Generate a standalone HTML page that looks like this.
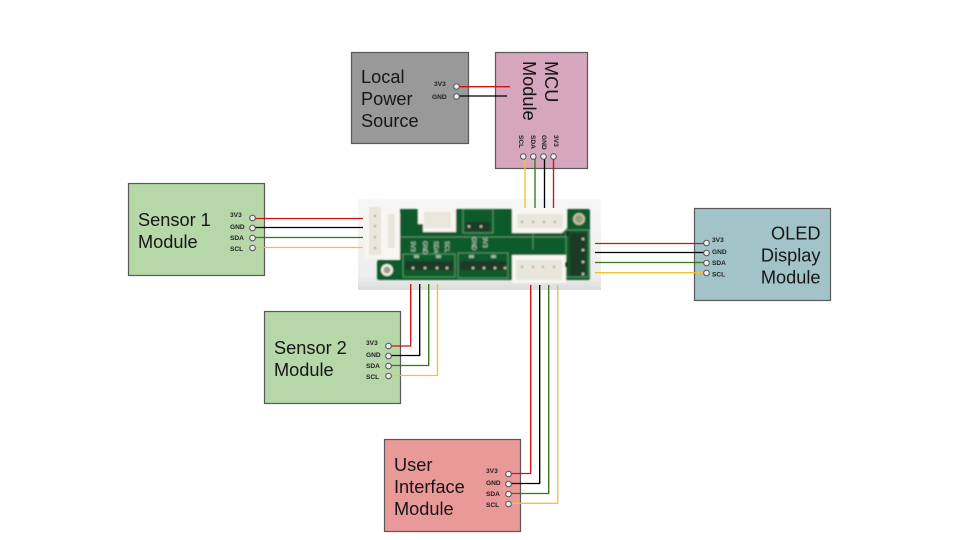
<!DOCTYPE html>
<html><head><meta charset="utf-8"><style>
html,body{margin:0;padding:0;background:#fff}
svg{display:block}
.t{font-family:"Liberation Sans",sans-serif;font-size:18.200px;fill:#161616}
.p{font-family:"Liberation Sans",sans-serif;font-size:6.600px;font-weight:bold;fill:#222}
.b{font-family:"Liberation Sans",sans-serif;font-size:6px;fill:#cfe3d4}
.pin{fill:#eee;stroke:#555;stroke-width:1}
.box{stroke:#595959;stroke-width:1.200}
.r,.k,.g,.y{fill:none;stroke-width:1.350}
.r{stroke:#cc1212}.k{stroke:#000}.g{stroke:#38761d}.y{stroke:#f1c232}
.w{fill:#f8f6f0}
.i{fill:#e9e6dc}
.tr{fill:none;stroke:#6fae80;stroke-width:.7}
.hd{fill:#1c3a27}
.pn{fill:#c9c2a8}
.cp{fill:#a8a79a}
</style></head><body>
<svg width="960" height="540" viewBox="0 0 960 540" xmlns="http://www.w3.org/2000/svg">
<defs>
<filter id="bl" x="-5%" y="-5%" width="110%" height="110%"><feGaussianBlur stdDeviation="0.700"/></filter>
<linearGradient id="bg" x1="0" y1="0" x2="0" y2="1"><stop offset="0" stop-color="#f7f7f7"/><stop offset=".85" stop-color="#ededed"/><stop offset="1" stop-color="#dcdcdc"/></linearGradient>
</defs>
<rect width="960" height="540" fill="#fff"/>

<!-- boxes -->
<rect class="box" x="351.500" y="52.500" width="117" height="91" fill="#999"/>
<rect class="box" x="495.500" y="52.500" width="92" height="116" fill="#d5a6bd"/>
<rect class="box" x="128.500" y="183.500" width="136" height="92" fill="#b6d7a8"/>
<rect class="box" x="694.500" y="208.500" width="136" height="92" fill="#a2c4c9"/>
<rect class="box" x="264.500" y="311.500" width="136" height="92" fill="#b6d7a8"/>
<rect class="box" x="384.500" y="439.500" width="136" height="92" fill="#ea9999"/>

<!-- board photo -->
<rect x="358" y="199" width="243" height="91" fill="url(#bg)"/>
<g filter="url(#bl)">
<path d="M400 209H588Q590 209 590 211V278Q590 280 588 280H379Q377 280 377 278V262Q377 260 379 260H400Z" fill="#0e5a2a"/>
<circle cx="387" cy="270" r="6" fill="#f2efe2"/><circle cx="387" cy="270" r="3.500" fill="#9aa090"/>
<circle cx="579" cy="219" r="6" fill="#c5c4a4"/><circle cx="579" cy="219" r="4" fill="#9c9c84"/>

<rect class="tr" x="403" y="254" width="52" height="23"/>
<rect class="tr" x="458" y="253" width="50" height="25"/>
<rect class="tr" x="463" y="209" width="30" height="24"/>
<rect class="tr" x="566" y="230" width="23" height="47"/>
<path class="tr" d="M533 233V249M400 237H566"/>

<rect class="hd" x="405" y="261" width="48" height="9"/>
<rect class="hd" x="460" y="261" width="46" height="9"/>
<rect class="hd" x="466" y="222" width="24" height="9"/>
<rect class="hd" x="570" y="233" width="16" height="43"/>
<rect x="414" y="255" width="5" height="3" fill="#cfe3d4" opacity=".7"/><rect x="436" y="255" width="5" height="3" fill="#cfe3d4" opacity=".7"/>
<rect x="469" y="255" width="5" height="3" fill="#cfe3d4" opacity=".7"/><rect x="491" y="255" width="5" height="3" fill="#cfe3d4" opacity=".7"/>

<g class="pn">
<circle cx="413" cy="268" r="1.400"/><circle cx="425" cy="268" r="1.400"/><circle cx="437" cy="268" r="1.400"/><circle cx="447" cy="268" r="1.400"/>
<circle cx="473" cy="268" r="1.400"/><circle cx="484" cy="268" r="1.400"/><circle cx="495" cy="268" r="1.400"/><circle cx="505" cy="268" r="1.400"/>
<circle cx="469" cy="226.500" r="1.400"/><circle cx="481" cy="226.500" r="1.400"/>
<circle cx="583" cy="239" r="1.400"/><circle cx="583" cy="250" r="1.400"/><circle cx="583" cy="262" r="1.400"/><circle cx="583" cy="274" r="1.400"/>
</g>

<!-- connectors -->
<path class="w" d="M365 205H384V203H392L400 214V259H384V258H365Z"/>
<rect class="i" x="369" y="207" width="12" height="48"/>
<rect class="i" x="388" y="214" width="7" height="34"/>
<path class="w" d="M418 207H456V232H423V224H418Z"/>
<rect class="i" x="424" y="212" width="27" height="16"/>
<path class="w" d="M512 207H567V228L562 233H512Z"/>
<rect class="i" x="517" y="214" width="46" height="14"/>
<path class="w" d="M512 255H566V283H512Z"/>
<rect class="i" x="516" y="260" width="46" height="20"/>
<g class="cp">
<circle cx="522" cy="222" r="1.200"/><circle cx="533" cy="222" r="1.200"/><circle cx="544" cy="222" r="1.200"/><circle cx="555" cy="222" r="1.200"/>
<circle cx="522" cy="267" r="1.200"/><circle cx="533" cy="267" r="1.200"/><circle cx="543" cy="267" r="1.200"/><circle cx="554" cy="267" r="1.200"/>
<circle cx="375" cy="216" r="1.200"/><circle cx="375" cy="226" r="1.200"/><circle cx="375" cy="237" r="1.200"/><circle cx="375" cy="248" r="1.200"/>
</g>
<rect x="566" y="231" width="3" height="5" fill="#222"/><rect x="565" y="262" width="3" height="5" fill="#222"/>

<text transform="translate(411,241) rotate(90)" class="b">3V3</text>
<text transform="translate(423,241) rotate(90)" class="b">GND</text>
<text transform="translate(434,241) rotate(90)" class="b">SDA</text>
<text transform="translate(445,241) rotate(90)" class="b">SCL</text>
<text transform="translate(472,237) rotate(90)" class="b">GND</text>
<text transform="translate(483,237) rotate(90)" class="b">3V3</text>
</g>

<!-- wires -->
<path class="r" d="M456 86.700H510"/><path class="k" d="M456 96H507"/>
<path class="y" d="M525 156V208"/><path class="g" d="M535 156V208"/><path class="k" d="M544.500 156V208"/><path class="r" d="M553.500 156V208"/>
<path class="r" d="M252 218.500H363"/><path class="k" d="M252 227.500H363"/><path class="g" d="M252 237.500H363"/><path class="y" d="M252 247.500H363"/>
<path class="r" d="M595 243.500H707"/><path class="k" d="M595 252.500H707"/><path class="g" d="M595 262.500H707"/><path class="y" d="M595 272.700H707"/>
<path class="r" d="M388 346H410.700V284"/><path class="k" d="M388 355.500H419.700V284"/><path class="g" d="M388 365.500H428.700V284"/><path class="y" d="M388 375.500H437.500V284"/>
<path class="r" d="M508 473.500H530.700V285"/><path class="k" d="M508 483.500H539.700V285"/><path class="g" d="M508 493.500H548.700V285"/><path class="y" d="M508 503.300H557.700V285"/>

<!-- pins -->
<circle class="pin" cx="456.500" cy="86.500" r="2.800"/><circle class="pin" cx="456.500" cy="96.500" r="2.800"/>
<circle class="pin" cx="523.300" cy="156.500" r="2.800"/><circle class="pin" cx="533.300" cy="156.500" r="2.800"/><circle class="pin" cx="543.500" cy="156.500" r="2.800"/><circle class="pin" cx="553.500" cy="156.500" r="2.800"/>
<circle class="pin" cx="252.500" cy="218" r="2.800"/><circle class="pin" cx="252.500" cy="228" r="2.800"/><circle class="pin" cx="252.500" cy="238" r="2.800"/><circle class="pin" cx="252.500" cy="248" r="2.800"/>
<circle class="pin" cx="706.500" cy="243" r="2.800"/><circle class="pin" cx="706.500" cy="253" r="2.800"/><circle class="pin" cx="706.500" cy="263" r="2.800"/><circle class="pin" cx="706.500" cy="273" r="2.800"/>
<circle class="pin" cx="388.500" cy="346" r="2.800"/><circle class="pin" cx="388.500" cy="356" r="2.800"/><circle class="pin" cx="388.500" cy="366" r="2.800"/><circle class="pin" cx="388.500" cy="376" r="2.800"/>
<circle class="pin" cx="508.500" cy="474" r="2.800"/><circle class="pin" cx="508.500" cy="484" r="2.800"/><circle class="pin" cx="508.500" cy="494" r="2.800"/><circle class="pin" cx="508.500" cy="504" r="2.800"/>

<!-- pin labels -->
<text class="p" x="434" y="86">3V3</text><text class="p" x="432" y="99">GND</text>
<text class="p" x="230" y="217">3V3</text><text class="p" x="230" y="229">GND</text><text class="p" x="230" y="240">SDA</text><text class="p" x="230" y="251">SCL</text>
<text class="p" x="712" y="242">3V3</text><text class="p" x="712" y="254">GND</text><text class="p" x="712" y="265">SDA</text><text class="p" x="712" y="276.500">SCL</text>
<text class="p" x="366" y="345">3V3</text><text class="p" x="366" y="357">GND</text><text class="p" x="366" y="368">SDA</text><text class="p" x="366" y="379">SCL</text>
<text class="p" x="486" y="473">3V3</text><text class="p" x="486" y="485">GND</text><text class="p" x="486" y="496">SDA</text><text class="p" x="486" y="507">SCL</text>
<text class="p" transform="translate(519,135) rotate(90)">SCL</text>
<text class="p" transform="translate(531,135) rotate(90)">SDA</text>
<text class="p" transform="translate(542,135) rotate(90)">GND</text>
<text class="p" transform="translate(554,135) rotate(90)">3V3</text>

<!-- titles -->
<text class="t" x="361" y="83">Local</text><text class="t" x="361" y="105">Power</text><text class="t" x="361" y="127">Source</text>
<text class="t" transform="translate(545,61) rotate(90)">MCU</text>
<text class="t" transform="translate(523,61) rotate(90)">Module</text>
<text class="t" x="138" y="226">Sensor 1</text><text class="t" x="138" y="248">Module</text>
<text class="t" x="274" y="354">Sensor 2</text><text class="t" x="274" y="376">Module</text>
<text class="t" x="394" y="471">User</text><text class="t" x="394" y="493">Interface</text><text class="t" x="394" y="515">Module</text>
<text class="t" x="820.500" y="239.500" text-anchor="end">OLED</text><text class="t" x="820.500" y="261.500" text-anchor="end">Display</text><text class="t" x="820.500" y="283.500" text-anchor="end">Module</text>
</svg>
</body></html>
